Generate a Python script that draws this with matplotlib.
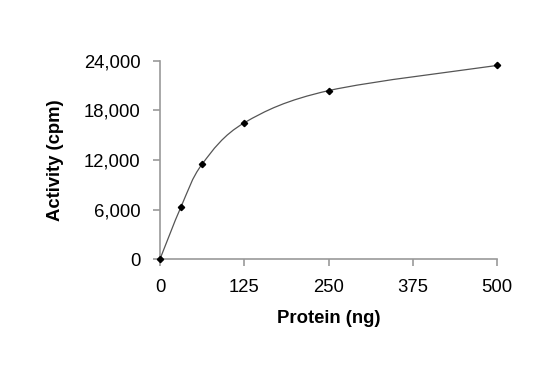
import matplotlib.pyplot as plt
from matplotlib.path import Path
from matplotlib.patches import PathPatch
from matplotlib.ticker import FuncFormatter

plt.rcParams['font.family'] = ['Liberation Sans', 'DejaVu Sans']

protein = [0, 31.25, 62.5, 125, 250, 500]
activity = [0, 6340, 11500, 16500, 20400, 23450]

x_ticks = [0, 125, 250, 375, 500]
y_ticks = [0, 6000, 12000, 18000, 24000]


def smooth_path(xs, ys):
    # Excel-style smoothed line: cubic bezier segments with catmull-rom tangents
    pts = list(zip(xs, ys))
    verts = [pts[0]]
    codes = [Path.MOVETO]
    n = len(pts)
    for i in range(n - 1):
        p0 = pts[i - 1] if i > 0 else pts[i]
        p1 = pts[i]
        p2 = pts[i + 1]
        p3 = pts[i + 2] if i + 2 < n else pts[i + 1]
        c1 = (p1[0] + (p2[0] - p0[0]) / 6, p1[1] + (p2[1] - p0[1]) / 6)
        c2 = (p2[0] - (p3[0] - p1[0]) / 6, p2[1] - (p3[1] - p1[1]) / 6)
        verts += [c1, c2, p2]
        codes += [Path.CURVE4] * 3
    return Path(verts, codes)


fig = plt.figure(figsize=(5.45, 3.76), dpi=100)
ax = fig.add_axes([0.2936, 0.311, 0.6184, 0.527])

ax.add_patch(PathPatch(smooth_path(protein, activity), facecolor='none',
                       edgecolor='#555555', linewidth=0.9))
ax.plot(protein, activity, linestyle='none', marker='D', markersize=3.2,
        color='black', clip_on=False, zorder=3)

ax.set_xlim(0, 500)
ax.set_ylim(0, 24000)
ax.set_xticks(x_ticks)
ax.set_yticks(y_ticks)
ax.yaxis.set_major_formatter(FuncFormatter(lambda v, p: f'{int(v):,}'))

for side in ['top', 'right']:
    ax.spines[side].set_visible(False)
for side in ['left', 'bottom']:
    ax.spines[side].set_color('#999999')
    ax.spines[side].set_linewidth(1.2)

ax.tick_params(axis='both', direction='out', length=5, width=1.2,
               color='#999999', labelsize=13.3, labelcolor='black')
ax.tick_params(axis='y', pad=9)
ax.tick_params(axis='x', pad=9.5)

ax.set_xlabel('Protein (ng)', fontsize=13.3, fontweight='bold', labelpad=10)
ax.set_ylabel('Activity (cpm)', fontsize=13.3, fontweight='bold', labelpad=14)

plt.savefig('out.png', dpi=100)
